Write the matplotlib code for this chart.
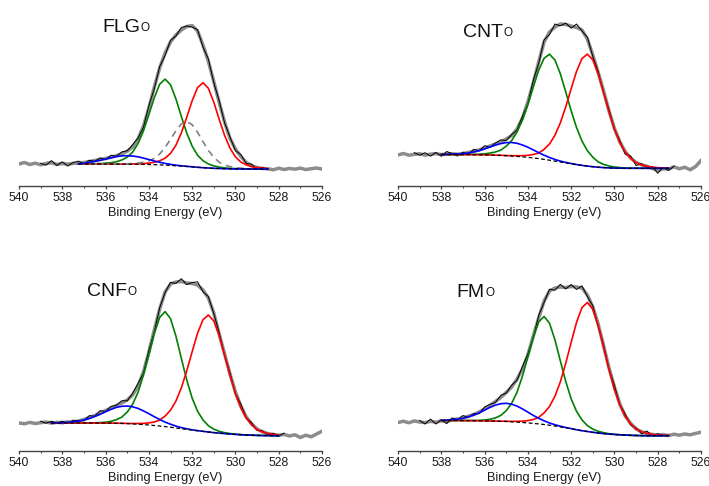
import numpy as np
import matplotlib.pyplot as plt
from matplotlib.ticker import MultipleLocator

plt.rcParams['font.family'] = ['Liberation Sans', 'DejaVu Sans']

# binding energy grid of the full spectra: 540 -> 526 eV, 0.25 eV step
E_HIGH, E_LOW, E_STEP = 540.0, 526.0, 0.25

# ---- FLG_O -------------------------------------------------------------
flg_fit = (537.25, 528.5)
flg_raw = (539.0, 528.5)
flg_envelope = [22.0, 23.5, 21.5, 22.8, 21.2, 22.6, 23.2, 21.6, 22.4, 21.9,
                22.6, 22.8, 23.5, 24.5, 25.5, 26.5, 27.5, 28.8, 30.3, 32.2,
                34.8, 39.0, 47.0, 60.0, 78.0, 99.0, 118.0, 133.0, 144.0, 151.0,
                156.0, 159.5, 160.5, 155.0, 141.0, 124.5, 104.5, 83.5, 64.0, 47.5,
                37.0, 29.5, 23.5, 20.3, 18.5, 17.5, 17.2, 16.2, 17.8, 16.5,
                17.6, 16.8, 17.9, 16.4, 17.3, 18.0, 16.9]
flg_noise = [1.5, -1.8, 2.2, -1.0, 1.8, -2.0, 0.8, 2.1, -1.5, 1.2,
             -0.8, 1.6, -1.2, 2.0, -0.6, 1.9, 0.4, 2.4, 1.0, -1.3,
             2.2, -1.8, 1.5, -2.4, 1.7, -1.0, 2.5, 0.5, -1.6, 1.3,
             -2.0, 2.6, -1.2, 1.8, -0.9, 1.4, -1.7, 2.0, -1.1, 1.6,
             -2.1, 1.2, -0.8]
flg_bg = [22.0, 22.0, 22.0, 22.0, 22.0, 22.0, 21.9, 21.9, 21.9, 21.8,
          21.8, 21.7, 21.6, 21.5, 21.3, 21.1, 20.9, 20.6, 20.2, 19.9,
          19.5, 19.1, 18.7, 18.3, 18.0, 17.7, 17.5, 17.3, 17.2, 17.1,
          17.1, 17.0, 17.0, 17.0, 17.0, 17.0]
flg_green = [0, 0, 0.2, 0.3, 0.4, 0.8, 1.4, 2.4, 4.1, 7.0,
             12.1, 20.8, 33.5, 49.8, 66.9, 80.7, 86.0, 80.7, 66.9, 49.8,
             33.5, 20.8, 12.1, 7.0, 4.1, 2.4, 1.4, 0.8, 0.4, 0.3,
             0.2, 0, 0, 0, 0, 0]
flg_red = [0, 0, 0, 0, 0, 0, 0, 0, 0, 0.2,
           0.3, 0.4, 0.8, 1.4, 2.4, 4.1, 6.9, 12.0, 20.6, 33.2,
           49.2, 66.1, 79.7, 85.0, 79.7, 66.1, 49.2, 33.2, 20.6, 12.0,
           6.9, 4.1, 2.4, 1.4, 0.8, 0.4]
flg_grey = [0, 0, 0, 0, 0, 0, 0.1, 0.1, 0.2, 0.4,
            0.7, 1.3, 2.2, 3.6, 6.3, 10.9, 17.6, 26.1, 35.0, 42.2,
            45.0, 42.2, 35.0, 26.1, 17.6, 10.9, 6.3, 3.6, 2.2, 1.3,
            0.7, 0.4, 0.2, 0.1, 0.1, 0]
flg_blue = [0.3, 0.7, 1.7, 2.6, 3.7, 5.0, 6.3, 7.5, 8.2, 8.5,
            8.2, 7.5, 6.3, 5.0, 3.7, 2.6, 1.7, 1.0, 0.6, 0.3,
            0.2, 0.1, 0, 0, 0, 0, 0, 0, 0, 0,
            0, 0, 0, 0, 0, 0]

# ---- CNT_O -------------------------------------------------------------
cnt_fit = (538.0, 527.5)
cnt_raw = (539.25, 527.25)
cnt_envelope = [31.0, 32.5, 30.8, 31.6, 32.3, 30.9, 31.8, 32.4, 31.4, 31.9,
                32.2, 31.8, 32.4, 33.5, 34.8, 36.0, 38.0, 40.0, 42.0, 44.0,
                47.0, 50.5, 57.0, 68.0, 84.0, 103.0, 124.0, 144.0, 154.0, 159.0,
                162.0, 161.5, 160.0, 158.5, 156.0, 147.0, 131.0, 113.5, 95.0, 75.0,
                57.5, 44.0, 34.2, 28.0, 23.5, 21.2, 19.8, 17.5, 15.5, 17.2,
                16.8, 19.2, 17.2, 18.8, 16.2, 19.5, 25.5]
cnt_noise = [1.8, -1.5, 2.4, -2.0, 1.2, -1.7, 2.6, 0.3, -1.9, 1.5,
             -2.2, 1.9, -0.8, 2.3, -1.4, 1.0, 2.1, -1.6, 0.9, -1.1,
             1.7, -2.0, 2.8, -1.5, 2.2, -2.6, 3.0, -1.8, 1.4, -2.2,
             3.5, -1.0, 1.8, -1.4, 0.8, -1.9, 1.3, -0.7, 1.6, -2.4,
             2.0, -3.0, 1.1, -1.6, 2.2, -2.8, 1.4, -1.2, 0.6]
cnt_bg = [31.5, 31.5, 31.5, 31.5, 31.4, 31.4, 31.3, 31.2, 31.1, 31.0,
          30.8, 30.6, 30.3, 30.0, 29.6, 29.2, 28.7, 28.1, 27.4, 26.6,
          25.8, 24.9, 24.0, 23.1, 22.2, 21.4, 20.6, 19.9, 19.3, 18.8,
          18.4, 18.1, 17.9, 17.8, 17.7, 17.7, 17.7, 17.7, 17.7, 17.7,
          17.7, 17.7, 17.7]
cnt_green = [0, 0, 0, 0, 0.1, 0.2, 0.3, 0.6, 1.1, 1.9,
             3.2, 5.3, 9.5, 15.4, 24.4, 37.0, 53.0, 71.0, 88.3, 101.1,
             106.0, 101.1, 88.3, 71.0, 53.0, 37.0, 24.4, 15.4, 9.5, 5.3,
             3.2, 1.9, 1.1, 0.6, 0.3, 0.2, 0.1, 0, 0, 0,
             0, 0, 0]
cnt_red = [0, 0, 0, 0, 0, 0, 0, 0, 0, 0,
           0, 0.1, 0.2, 0.3, 0.7, 1.1, 2.0, 3.4, 5.6, 10.1,
           16.2, 25.8, 39.1, 56.0, 75.0, 93.3, 106.8, 112.0, 106.8, 93.3,
           75.0, 56.0, 39.1, 25.8, 16.2, 10.1, 5.6, 3.4, 2.0, 1.1,
           0.7, 0.3, 0.2]
cnt_blue = [0, 0.1, 0.3, 0.5, 0.9, 1.7, 2.7, 4.2, 6.0, 8.0,
            10.1, 11.8, 13.1, 13.5, 13.1, 11.8, 10.1, 8.0, 6.0, 4.2,
            2.7, 1.7, 0.9, 0.5, 0.3, 0.1, 0, 0, 0, 0,
            0, 0, 0, 0, 0, 0, 0, 0, 0, 0,
            0, 0, 0]

# ---- CNF_O -------------------------------------------------------------
cnf_fit = (538.5, 528.0)
cnf_raw = (539.0, 527.75)
cnf_envelope = [28.0, 27.2, 28.6, 27.5, 28.3, 29.0, 27.8, 28.7, 28.2, 29.2,
                28.6, 30.0, 31.5, 33.5, 35.5, 38.0, 40.5, 43.0, 45.5, 48.0,
                51.0, 56.0, 65.0, 79.0, 99.0, 121.0, 142.0, 159.0, 167.0, 169.0,
                169.5, 168.0, 167.5, 166.0, 161.0, 153.0, 138.0, 117.0, 97.0, 77.0,
                59.0, 45.0, 34.0, 27.0, 22.0, 19.2, 17.4, 16.4, 15.8, 16.6,
                15.0, 16.2, 13.5, 15.8, 14.2, 17.0, 19.8]
cnf_noise = [1.5, -1.2, 2.0, -0.9, 1.7, -1.5, 2.2, 0.4, -1.3, 1.9,
             -0.7, 2.4, -1.0, 1.6, 0.2, 2.3, -0.8, 1.8, 2.6, -1.1,
             1.4, -2.0, 1.2, -0.5, 1.6, -1.4, 2.8, -1.6, 1.0, 3.2,
             -1.8, 1.4, -0.6, 1.1, -1.3, 0.9, -1.6, 1.8, -0.8, 1.3,
             -1.5, 1.0, -1.2, 1.4, -0.9, 1.2]
cnf_bg = [28.0, 28.0, 28.0, 28.0, 28.0, 28.0, 28.0, 28.0, 28.0, 27.9,
          27.9, 27.9, 27.8, 27.6, 27.4, 27.1, 26.8, 26.4, 26.0, 25.5,
          25.0, 24.4, 23.8, 23.0, 22.3, 21.6, 20.9, 20.2, 19.6, 19.0,
          18.4, 17.9, 17.4, 17.0, 16.6, 16.3, 16.0, 15.8, 15.6, 15.5,
          15.4, 15.3, 15.3]
cnf_green = [0, 0, 0, 0, 0, 0, 0, 0.1, 0.2, 0.5,
             0.9, 1.8, 3.5, 6.3, 11.5, 19.6, 32.0, 49.5, 70.4, 91.9,
             108.6, 115.0, 108.6, 91.9, 70.4, 49.5, 32.0, 19.6, 11.5, 6.3,
             3.5, 1.8, 0.9, 0.5, 0.2, 0.1, 0, 0, 0, 0,
             0, 0, 0]
cnf_red = [0, 0, 0, 0, 0, 0, 0, 0, 0, 0,
           0, 0, 0, 0.1, 0.2, 0.4, 0.7, 1.2, 2.1, 3.5,
           5.9, 10.5, 17.0, 26.9, 40.8, 58.5, 78.4, 97.5, 111.6, 117.0,
           111.6, 97.5, 78.4, 58.5, 40.8, 26.9, 17.0, 10.5, 5.9, 3.5,
           2.1, 1.2, 0.7]
cnf_blue = [0.1, 0.2, 0.3, 0.6, 1.1, 1.9, 3.0, 4.5, 6.5, 8.8,
            11.3, 13.7, 15.8, 17.1, 17.6, 17.1, 15.8, 13.7, 11.3, 8.8,
            6.5, 4.5, 3.0, 1.9, 1.1, 0.6, 0.3, 0.2, 0.1, 0,
            0, 0, 0, 0, 0, 0, 0, 0, 0, 0,
            0, 0, 0]

# ---- FM_O --------------------------------------------------------------
fm_fit = (538.0, 527.5)
fm_raw = (539.0, 527.75)
fm_envelope = [28.5, 29.8, 28.2, 30.1, 29.0, 28.4, 29.6, 28.8, 30.2, 29.5,
               31.2, 32.0, 33.0, 34.8, 36.5, 39.0, 42.0, 45.5, 49.5, 53.5,
               58.5, 64.0, 72.0, 82.0, 96.0, 115.0, 133.0, 150.0, 160.0, 163.0,
               164.0, 163.5, 164.5, 164.0, 163.0, 156.0, 144.0, 127.0, 105.0, 83.0,
               64.0, 47.0, 35.0, 27.5, 22.0, 19.3, 17.6, 16.6, 15.8, 16.4,
               15.5, 16.8, 15.8, 17.0, 16.2, 17.6, 18.8]
fm_noise = [1.6, -1.4, 2.3, -1.8, 1.0, -2.2, 1.9, -0.8, 2.5, -1.2,
            0.9, -1.7, 2.0, 1.2, -1.0, 2.2, -0.6, 1.8, -1.3, 2.4,
            1.1, -1.9, 2.6, -1.5, 1.8, -2.3, 2.7, -1.4, 2.0, -2.5,
            2.2, -1.6, 1.3, -2.0, 0.9, -1.2, 1.5, -0.7, 1.9, -1.5,
            1.2, -2.1, 2.4, -1.8, 1.6, -1.0]
fm_bg = [30.5, 30.5, 30.5, 30.5, 30.4, 30.4, 30.3, 30.2, 30.1, 30.0,
         29.9, 29.7, 29.5, 29.2, 28.9, 28.5, 28.1, 27.6, 27.1, 26.5,
         25.8, 25.0, 24.1, 23.2, 22.2, 21.2, 20.3, 19.5, 18.7, 18.0,
         17.4, 16.9, 16.5, 16.2, 15.9, 15.7, 15.5, 15.4, 15.3, 15.3,
         15.3, 15.3, 15.3]
fm_green = [0, 0, 0, 0, 0, 0.1, 0.2, 0.4, 0.9, 1.7,
            3.2, 5.9, 10.8, 18.4, 30.0, 46.4, 66.1, 86.3, 102.0, 108.0,
            102.0, 86.3, 66.1, 46.4, 30.0, 18.4, 10.8, 5.9, 3.2, 1.7,
            0.9, 0.4, 0.2, 0.1, 0, 0, 0, 0, 0, 0,
            0, 0, 0]
fm_red = [0, 0, 0, 0, 0, 0, 0, 0, 0, 0,
          0, 0.1, 0.3, 0.4, 0.8, 1.3, 2.3, 3.9, 6.5, 11.6,
          18.7, 29.7, 45.0, 64.5, 86.4, 107.5, 123.1, 129.0, 123.1, 107.5,
          86.4, 64.5, 45.0, 29.7, 18.7, 11.6, 6.5, 3.9, 2.3, 1.3,
          0.8, 0.4, 0.3]
fm_blue = [0.2, 0.3, 0.7, 1.3, 2.2, 3.7, 5.6, 8.0, 10.8, 13.6,
           16.0, 17.6, 18.2, 17.6, 16.0, 13.6, 10.8, 8.0, 5.6, 3.7,
           2.2, 1.3, 0.7, 0.3, 0.2, 0.1, 0, 0, 0, 0,
           0, 0, 0, 0, 0, 0, 0, 0, 0, 0,
           0, 0, 0]

# sample label, label position (eV, intensity)
labels = ['FLG', 'CNT', 'CNF', 'FM']
label_pos = [(536.16, 154), (537.01, 149.3), (536.84, 155.3), (537.29, 154.3)]

n_pts = int(round((E_HIGH - E_LOW) / E_STEP)) + 1
energy = np.linspace(E_HIGH, E_LOW, n_pts)


def in_range(lims):
    hi, lo = lims
    return (energy <= hi + 1e-6) & (energy >= lo - 1e-6)


def draw_panel(ax, label, lpos, envelope, noise, raw_lims, fit_lims, bg, parts):
    envelope = np.array(envelope)
    ax.plot(energy, envelope, color='#8c8c8c', lw=2.5, zorder=1)
    m = in_range(raw_lims)
    ax.plot(energy[m], envelope[m] + np.array(noise), color='black', lw=0.7, zorder=2)

    fm = in_range(fit_lims)
    e_fit = energy[fm]
    bg = np.array(bg)
    for vals, col, ls in parts:
        ax.plot(e_fit, bg + np.array(vals), color=col, lw=1.2, ls=ls, zorder=3)
    ax.plot(e_fit, bg, color='black', lw=0.9, ls=(0, (3, 2)), zorder=4)

    t = ax.text(lpos[0], lpos[1], label, fontsize=14, ha='left', va='baseline',
                color='#111111')
    ax.annotate('O', xy=(1, 0), xycoords=t, xytext=(0.3, 1.2),
                textcoords='offset points', fontsize=8.5, ha='left', va='bottom',
                color='#111111')

    ax.set_xlim(540, 526)
    ax.set_ylim(0, 176)
    for s in ['left', 'right', 'top']:
        ax.spines[s].set_visible(False)
    ax.spines['bottom'].set_color('#444444')
    ax.spines['bottom'].set_linewidth(1.0)
    ax.set_yticks([])
    ax.xaxis.set_major_locator(MultipleLocator(2))
    ax.xaxis.set_minor_locator(MultipleLocator(1))
    ax.tick_params(axis='x', which='major', direction='out', length=2.5, width=0.9,
                   color='#444444', labelsize=8.8, pad=1.8, labelcolor='#1a1a1a')
    ax.tick_params(axis='x', which='minor', direction='out', length=1.5, width=0.8,
                   color='#444444')
    ax.set_xlabel('Binding Energy (eV)', fontsize=9.2, color='#1a1a1a')
    ax.xaxis.set_label_coords(0.482, -0.118)
    ax.patch.set_alpha(0)


fig = plt.figure(figsize=(7.09, 4.86), dpi=100)
W, H = 709.0, 486.0
axes = [fig.add_axes([19 / W, 1 - 186 / H, 303 / W, 176 / H]),
        fig.add_axes([398 / W, 1 - 186 / H, 303 / W, 176 / H]),
        fig.add_axes([19 / W, 1 - 451 / H, 303 / W, 176 / H]),
        fig.add_axes([398 / W, 1 - 451 / H, 303 / W, 176 / H])]

dash = (0, (4, 3))
draw_panel(axes[0], labels[0], label_pos[0], flg_envelope, flg_noise, flg_raw, flg_fit,
           flg_bg, [(flg_green, '#008000', '-'), (flg_red, '#ff0000', '-'),
                    (flg_grey, '#808080', dash), (flg_blue, '#0000ff', '-')])
draw_panel(axes[1], labels[1], label_pos[1], cnt_envelope, cnt_noise, cnt_raw, cnt_fit,
           cnt_bg, [(cnt_green, '#008000', '-'), (cnt_red, '#ff0000', '-'),
                    (cnt_blue, '#0000ff', '-')])
draw_panel(axes[2], labels[2], label_pos[2], cnf_envelope, cnf_noise, cnf_raw, cnf_fit,
           cnf_bg, [(cnf_green, '#008000', '-'), (cnf_red, '#ff0000', '-'),
                    (cnf_blue, '#0000ff', '-')])
draw_panel(axes[3], labels[3], label_pos[3], fm_envelope, fm_noise, fm_raw, fm_fit,
           fm_bg, [(fm_green, '#008000', '-'), (fm_red, '#ff0000', '-'),
                   (fm_blue, '#0000ff', '-')])

fig.savefig('out.png', dpi=100)
